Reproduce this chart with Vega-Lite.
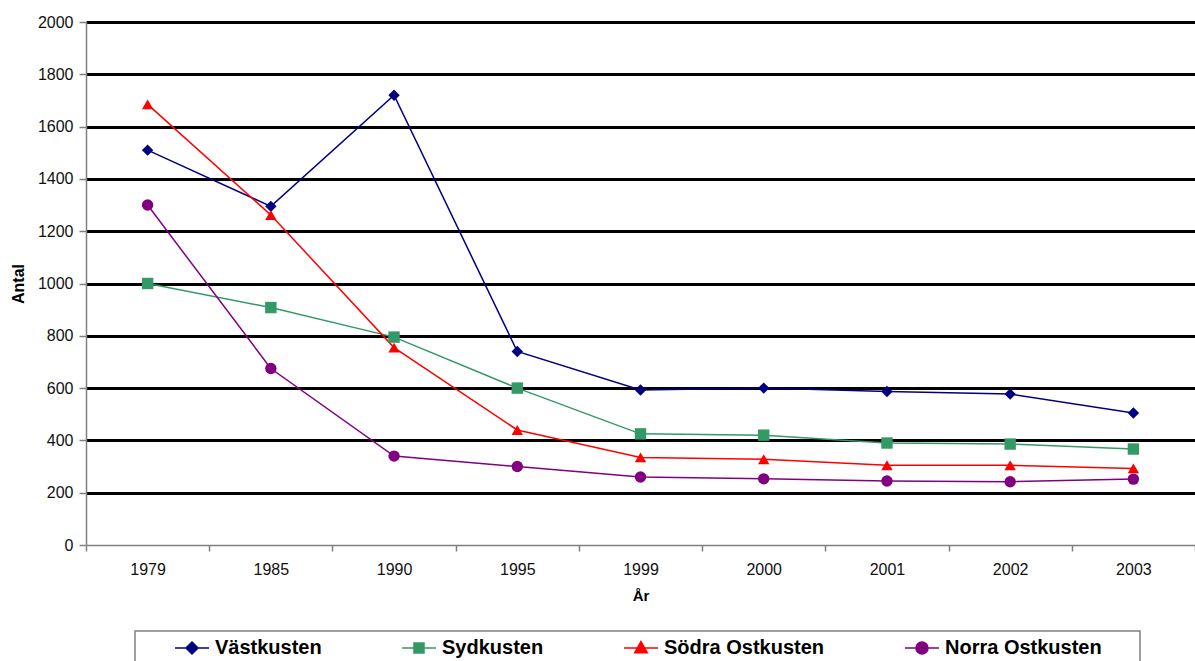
{
  "$schema": "https://vega.github.io/schema/vega-lite/v6.json",
  "autosize": "none",
  "width": 1109,
  "height": 523,
  "padding": {"left": 86, "top": 22, "right": 0, "bottom": 116},
  "background": "white",
  "config": {
    "font": "Liberation Sans",
    "view": {"stroke": null}
  },
  "data": {
    "values": [
      {"Ar": "1979", "Serie": "Västkusten", "Antal": 1510},
      {"Ar": "1985", "Serie": "Västkusten", "Antal": 1295},
      {"Ar": "1990", "Serie": "Västkusten", "Antal": 1720},
      {"Ar": "1995", "Serie": "Västkusten", "Antal": 740},
      {"Ar": "1999", "Serie": "Västkusten", "Antal": 593},
      {"Ar": "2000", "Serie": "Västkusten", "Antal": 600},
      {"Ar": "2001", "Serie": "Västkusten", "Antal": 587},
      {"Ar": "2002", "Serie": "Västkusten", "Antal": 577},
      {"Ar": "2003", "Serie": "Västkusten", "Antal": 505},
      {"Ar": "1979", "Serie": "Sydkusten", "Antal": 1000},
      {"Ar": "1985", "Serie": "Sydkusten", "Antal": 908},
      {"Ar": "1990", "Serie": "Sydkusten", "Antal": 795},
      {"Ar": "1995", "Serie": "Sydkusten", "Antal": 600},
      {"Ar": "1999", "Serie": "Sydkusten", "Antal": 425},
      {"Ar": "2000", "Serie": "Sydkusten", "Antal": 420},
      {"Ar": "2001", "Serie": "Sydkusten", "Antal": 390},
      {"Ar": "2002", "Serie": "Sydkusten", "Antal": 386},
      {"Ar": "2003", "Serie": "Sydkusten", "Antal": 367},
      {"Ar": "1979", "Serie": "Södra Ostkusten", "Antal": 1685},
      {"Ar": "1985", "Serie": "Södra Ostkusten", "Antal": 1262},
      {"Ar": "1990", "Serie": "Södra Ostkusten", "Antal": 755},
      {"Ar": "1995", "Serie": "Södra Ostkusten", "Antal": 440},
      {"Ar": "1999", "Serie": "Södra Ostkusten", "Antal": 335},
      {"Ar": "2000", "Serie": "Södra Ostkusten", "Antal": 328},
      {"Ar": "2001", "Serie": "Södra Ostkusten", "Antal": 305},
      {"Ar": "2002", "Serie": "Södra Ostkusten", "Antal": 305},
      {"Ar": "2003", "Serie": "Södra Ostkusten", "Antal": 293},
      {"Ar": "1979", "Serie": "Norra Ostkusten", "Antal": 1300},
      {"Ar": "1985", "Serie": "Norra Ostkusten", "Antal": 675},
      {"Ar": "1990", "Serie": "Norra Ostkusten", "Antal": 340},
      {"Ar": "1995", "Serie": "Norra Ostkusten", "Antal": 300},
      {"Ar": "1999", "Serie": "Norra Ostkusten", "Antal": 260},
      {"Ar": "2000", "Serie": "Norra Ostkusten", "Antal": 253},
      {"Ar": "2001", "Serie": "Norra Ostkusten", "Antal": 245},
      {"Ar": "2002", "Serie": "Norra Ostkusten", "Antal": 242},
      {"Ar": "2003", "Serie": "Norra Ostkusten", "Antal": 252}
    ]
  },
  "encoding": {
    "x": {
      "field": "Ar",
      "type": "ordinal",
      "bandPosition": 0.5,
      "scale": {"type": "band", "paddingInner": 0, "paddingOuter": 0},
      "axis": {
        "title": "År",
        "titleFontSize": 15,
        "titleFontWeight": "bold",
        "titleColor": "#000",
        "titlePadding": 11,
        "labelAngle": 0,
        "labelFontSize": 16,
        "labelColor": "#111",
        "labelPadding": 10,
        "tickBand": "extent",
        "tickSize": 6,
        "tickColor": "#808080",
        "tickWidth": 1.5,
        "domainColor": "#808080",
        "domainWidth": 1.5,
        "grid": false
      }
    },
    "y": {
      "field": "Antal",
      "type": "quantitative",
      "scale": {"domain": [0, 2000], "nice": false},
      "axis": {
        "title": "Antal",
        "titleFontSize": 16,
        "titleFontWeight": "bold",
        "titleColor": "#000",
        "titlePadding": 11,
        "format": "d",
        "values": [0, 200, 400, 600, 800, 1000, 1200, 1400, 1600, 1800, 2000],
        "labelFontSize": 16,
        "labelColor": "#111",
        "labelPadding": 6,
        "tickSize": 7,
        "tickColor": "#808080",
        "tickWidth": 1.5,
        "domainColor": "#808080",
        "domainWidth": 1.5,
        "grid": true,
        "gridColor": {"condition": {"test": "datum.value == 0", "value": "transparent"}, "value": "#000000"},
        "gridWidth": 3,
        "gridOpacity": 1
      }
    },
    "color": {
      "field": "Serie",
      "type": "nominal",
      "scale": {
        "domain": ["Västkusten", "Sydkusten", "Södra Ostkusten", "Norra Ostkusten"],
        "range": ["#000080", "#339966", "#ff0000", "#800080"]
      },
      "legend": {
        "orient": "none",
        "legendX": 49,
        "legendY": 609,
        "direction": "horizontal",
        "columns": 4,
        "gridAlign": "none",
        "columnPadding": 47,
        "title": " ",
        "titleOrient": "right",
        "titlePadding": 31,
        "padding": 7,
        "strokeColor": "#808080",
        "fillColor": "white",
        "symbolSize": 100,
        "symbolOffset": 40,
        "labelOffset": 13,
        "labelFontSize": 20,
        "labelFontWeight": "bold",
        "labelColor": "#000",
        "labelLimit": 300,
        "symbolStrokeWidth": 1.5,
        "encode": {
          "legend": {"update": {"strokeWidth": {"value": 1.5}}},
          "symbols": {
            "update": {
              "shape": {"signal": "['M-3.4,0L3.4,0M0,-1.2L1.2,0L0,1.2L-1.2,0Z','M-3.4,0L3.4,0M-1,-1L1,-1L1,1L-1,1Z','M-3.4,0L3.4,0M0,-1.3L1.25,0.95L-1.25,0.95Z','M-3.4,0L3.4,0M1.2,0A1.2,1.2,0,1,1,-1.2,0A1.2,1.2,0,1,1,1.2,0Z'][datum.index]"},
              "fill": {"scale": "color", "field": "value"},
              "stroke": {"scale": "color", "field": "value"}
            }
          }
        }
      }
    }
  },
  "layer": [
    {
      "mark": {"type": "line", "strokeWidth": 1.5}
    },
    {
      "mark": {"type": "point", "filled": true, "opacity": 1, "size": 130},
      "encoding": {
        "shape": {
          "condition": [
            {"test": "datum.Serie === 'Västkusten'", "value": "diamond"},
            {"test": "datum.Serie === 'Sydkusten'", "value": "square"},
            {"test": "datum.Serie === 'Södra Ostkusten'", "value": "triangle-up"}
          ],
          "value": "circle"
        }
      }
    }
  ]
}
